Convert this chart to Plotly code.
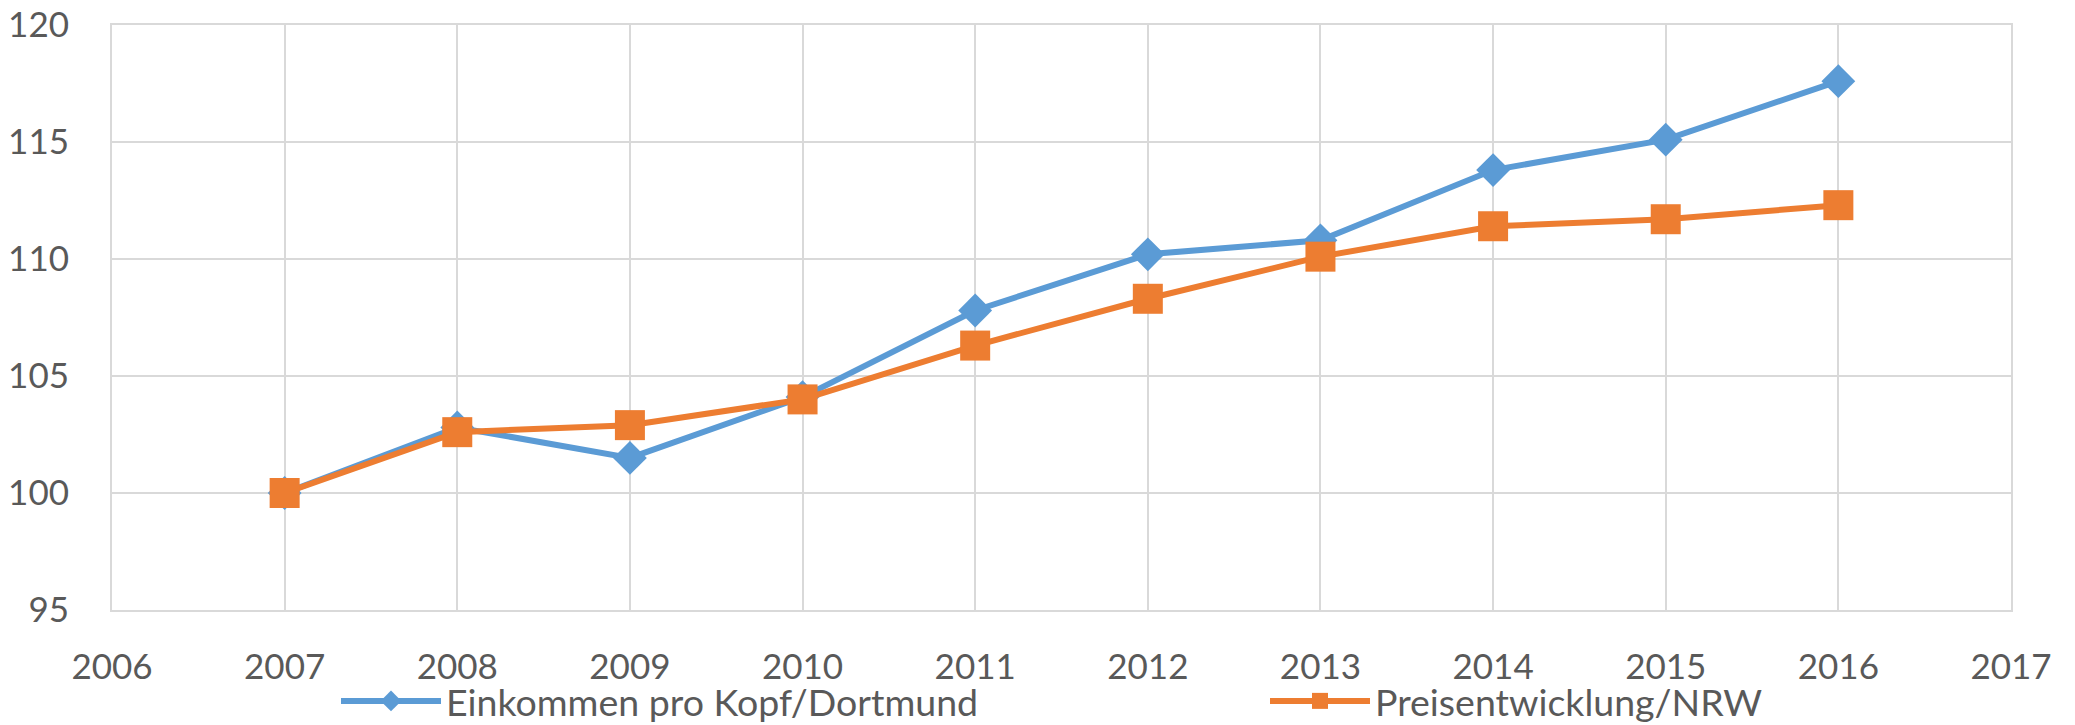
import plotly.graph_objects as go

years = [2007, 2008, 2009, 2010, 2011, 2012, 2013, 2014, 2015, 2016]
einkommen = [100.0, 102.8, 101.5, 104.1, 107.8, 110.2, 110.8, 113.8, 115.1, 117.6]
preise = [100.0, 102.6, 102.9, 104.0, 106.3, 108.3, 110.1, 111.4, 111.7, 112.3]
name_a = "Einkommen pro Kopf/Dortmund"
name_b = "Preisentwicklung/NRW"
x_ticks = list(range(2006, 2018))
y_ticks = [95, 100, 105, 110, 115, 120]

BLUE = "#5B9BD5"
ORANGE = "#ED7D31"
TEXT = "#595959"
GRID = "#D9D9D9"
FONT = "Lato"

fig = go.Figure()
fig.add_trace(go.Scatter(
    x=years, y=einkommen, name=name_a, mode="lines+markers",
    line=dict(color=BLUE, width=6),
    marker=dict(symbol="diamond", size=26, color=BLUE),
    legend="legend",
))
fig.add_trace(go.Scatter(
    x=years, y=preise, name=name_b, mode="lines+markers",
    line=dict(color=ORANGE, width=6),
    marker=dict(symbol="square", size=30, color=ORANGE),
    legend="legend2",
))

# The page body adds an 8px margin, so figure coordinates are page minus 8.
OFF = 8
W, H = 2075, 725
L, R, T, B = 112 - OFF, 2011 - OFF, 25 - OFF, 610 - OFF
LEG_Y = 701 - OFF

def leg(xpx):
    return dict(
        orientation="h", xref="container", yref="container",
        x=(xpx - OFF) / W, xanchor="left", y=1 - LEG_Y / H, yanchor="middle",
        font=dict(family=FONT, size=37.5, color=TEXT),
        bgcolor="rgba(0,0,0,0)", itemwidth=100,
    )

fig.update_layout(
    width=W, height=H,
    margin=dict(l=L, r=W - R, t=T, b=H - B, pad=0, autoexpand=False),
    paper_bgcolor="white", plot_bgcolor="white",
    font=dict(family=FONT, size=35, color=TEXT),
    showlegend=True,
    legend=leg(336),
    legend2=leg(1265),
    xaxis=dict(
        range=[x_ticks[0], x_ticks[-1]], tickmode="array", tickvals=x_ticks,
        ticktext=[str(v) for v in x_ticks],
        showgrid=True, gridcolor=GRID, gridwidth=2,
        showline=True, linecolor=GRID, linewidth=2, mirror=True,
        zeroline=False, ticks="", ticklabelstandoff=25,
        ticklabeloverflow="allow",
    ),
    yaxis=dict(
        range=[y_ticks[0], y_ticks[-1]], tickmode="array", tickvals=y_ticks,
        showgrid=True, gridcolor=GRID, gridwidth=2,
        showline=True, linecolor=GRID, linewidth=2, mirror=True,
        zeroline=False, ticks="", ticklabelstandoff=34,
        ticklabeloverflow="allow",
    ),
)

fig.write_html("out.html")
